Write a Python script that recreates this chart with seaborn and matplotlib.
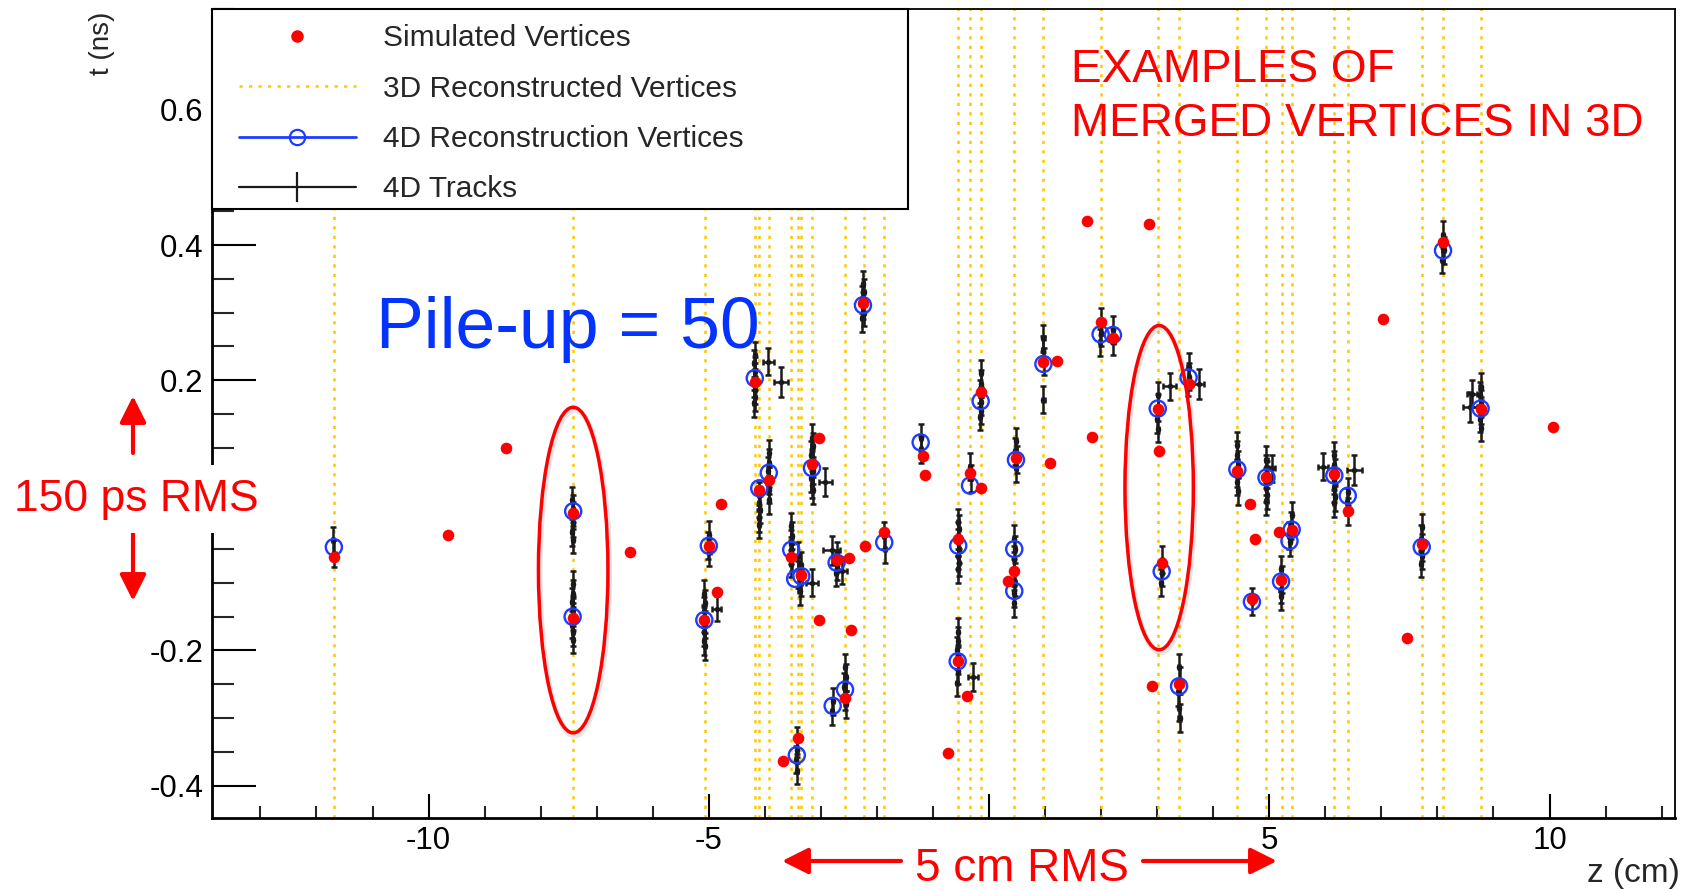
import matplotlib
matplotlib.use("Agg")
import matplotlib.pyplot as plt
import matplotlib.patheffects as pe
from matplotlib.patches import Ellipse, Rectangle, FancyArrowPatch
from matplotlib.lines import Line2D
from matplotlib.ticker import MultipleLocator, FixedLocator, FixedFormatter
import seaborn as sns

# simulated vertices (z in cm, t in ns)
sim_z = [-11.69, -9.65, -8.62, -7.42, -7.43, -6.41, -5.00, -5.08, -4.78, -4.86,
         -4.18, -4.10, -3.92, -3.68, -3.40, -3.53, -3.35, -3.16, -3.04, -3.03,
         -2.72, -2.49, -2.21, -1.87, -2.47, -2.57, -2.25, -1.18, -1.15, -0.34,
         -0.15, -0.15, -0.55, -0.56, -0.40, -0.73, 0.48, 0.45, 0.34, 0.97,
         1.21, 1.08, 1.83, 1.75, 1.99, 2.21, 2.85, 3.01, 3.04, 3.08,
         3.39, 2.90, 3.56, 4.43, 4.66, 4.74, 4.69, 4.95, 5.17, 5.40,
         5.21, 6.16, 6.40, 7.03, 7.72, 7.45, 8.10, 8.77, 10.07]
sim_t = [-0.062, -0.029, 0.099, 0.003, -0.152, -0.055, -0.046, -0.155, 0.017, -0.113,
         0.197, 0.038, 0.052, -0.364, -0.330, -0.061, -0.088, 0.076, 0.115, -0.155,
         -0.066, -0.063, -0.045, -0.025, -0.169, -0.271, 0.314, 0.088, 0.060, 0.062,
         0.041, 0.182, -0.035, -0.216, -0.267, -0.352, 0.085, -0.082, -0.097, 0.227,
         0.229, 0.078, 0.116, 0.436, 0.286, 0.263, 0.431, 0.158, 0.095, -0.070,
         -0.250, -0.253, 0.194, 0.065, 0.017, -0.035, -0.124, 0.056, -0.025, -0.021,
         -0.096, 0.061, 0.007, 0.290, -0.042, -0.182, 0.404, 0.158, 0.131]

# 4D reconstructed vertices
reco4d_z = [-11.69, -7.42, -7.43, -5.00, -5.08, -4.18, -4.10, -3.93, -3.53, -3.46,
            -3.35, -3.43, -3.16, -2.72, -2.57, -2.79, -2.25, -1.87, -1.22, -0.34,
            -0.15, -0.55, -0.56, 0.48, 0.45, 0.45, 0.97, 1.99, 2.21, 3.01,
            3.08, 3.39, 3.56, 4.43, 4.69, 4.95, 5.21, 5.40, 5.36, 6.16,
            6.40, 7.72, 8.10, 8.77]
reco4d_t = [-0.047, 0.006, -0.150, -0.045, -0.155, 0.203, 0.040, 0.063, -0.051, -0.094,
            -0.090, -0.355, 0.070, -0.070, -0.258, -0.282, 0.311, -0.040, 0.108, 0.044,
            0.169, -0.045, -0.216, 0.082, -0.050, -0.112, 0.224, 0.268, 0.267, 0.158,
            -0.083, -0.253, 0.204, 0.068, -0.128, 0.056, -0.098, -0.021, -0.038, 0.059,
            0.029, -0.047, 0.392, 0.158]

# 3D reconstructed vertices (z only)
reco3d_z = [-11.69, -7.43, -5.06, -4.17, -4.10, -3.93, -3.53, -3.40, -3.35, -3.16,
            -2.57, -2.24, -1.87, -0.55, -0.34, -0.15, 0.45, 0.97, 1.99, 3.01,
            3.39, 4.43, 4.94, 5.22, 5.40, 6.16, 6.40, 7.72, 8.10, 8.77]

# 4D tracks, errors 0.02 cm / 0.02 ns
trk_z = [-11.70, -11.68,
         -7.44, -7.42, -7.43, -7.42, -7.44, -7.43,
         -7.43, -7.42, -7.44, -7.43, -7.42, -7.44, -7.43, -7.42,
         -5.00, -5.01, -4.99,
         -5.08, -5.07, -5.09, -5.08, -5.07, -5.09, -5.08, -5.07,
         -4.18, -4.19, -4.17, -4.18, -4.19, -4.17, -4.18, -4.19,
         -4.10, -4.11, -4.09, -4.10, -4.11,
         -3.93, -3.92, -3.94, -3.93, -3.92, -3.93,
         -3.53, -3.52, -3.54, -3.53, -3.52, -3.54,
         -3.40, -3.36, -3.41, -3.35, -3.38,
         -3.43, -3.42, -3.44, -3.43,
         -3.16, -3.15, -3.17, -3.16, -3.15, -3.17, -3.16, -3.15,
         -2.72, -2.71, -2.73,
         -2.57, -2.56, -2.58, -2.57, -2.56, -2.79, -2.80,
         -2.25, -2.24, -2.26, -2.25, -2.24, -2.26,
         -1.87, -1.86,
         -1.21, -1.22,
         -0.34, -0.33,
         -0.15, -0.14, -0.16, -0.15, -0.14, -0.16,
         -0.55, -0.54, -0.56, -0.55, -0.53, -0.56, -0.54, -0.55,
         -0.56, -0.55, -0.57, -0.56, -0.55, -0.57,
         0.48, 0.47, 0.49, 0.48,
         0.45, 0.46, 0.44, 0.45, 0.46, 0.44, 0.45,
         0.97, 0.96, 0.98, 0.97,
         1.99, 2.00, 1.98, 2.21, 2.22,
         3.01, 3.02, 3.00, 3.01,
         3.56, 3.57, 3.55,
         3.08, 3.09, 3.07,
         3.39, 3.40, 3.38, 3.39, 3.40,
         4.43, 4.42, 4.44, 4.43, 4.42, 4.44,
         4.95, 4.94, 4.96, 4.95, 4.94, 4.96, 4.95,
         4.69,
         5.21, 5.22, 5.20, 5.21,
         5.40, 5.39, 5.36, 5.37,
         6.16, 6.15, 6.17, 6.16, 6.15, 6.17, 6.16,
         6.40, 6.39, 6.41,
         7.72, 7.71, 7.73, 7.72, 7.71,
         8.10, 8.11, 8.09,
         8.77, 8.76, 8.78, 8.77, 8.76, 8.78]
trk_t = [-0.037, -0.057,
         0.022, 0.010, 0.000, -0.012, -0.025, -0.036,
         -0.102, -0.116, -0.128, -0.140, -0.150, -0.162, -0.173, -0.184,
         -0.029, -0.045, -0.055,
         -0.116, -0.130, -0.141, -0.152, -0.162, -0.173, -0.186, -0.194,
         0.237, 0.225, 0.214, 0.205, 0.195, 0.185, 0.175, 0.166,
         0.030, 0.018, 0.008, -0.004, -0.014,
         0.092, 0.078, 0.066, 0.052, 0.038, 0.022,
         -0.016, -0.030, -0.042, -0.052, -0.062, -0.072,
         -0.060, -0.074, -0.088, -0.100, -0.112,
         -0.333, -0.347, -0.362, -0.378,
         0.115, 0.102, 0.090, 0.078, 0.066, 0.055, 0.045, 0.037,
         -0.060, -0.075, -0.085,
         -0.225, -0.240, -0.254, -0.268, -0.280, -0.275, -0.290,
         0.342, 0.330, 0.320, 0.310, 0.300, 0.292,
         -0.030, -0.050,
         0.115, 0.098,
         0.072, 0.055,
         0.210, 0.195, 0.181, 0.168, 0.155, 0.146,
         -0.010, -0.020, -0.030, -0.040, -0.050, -0.060, -0.070, -0.080,
         -0.172, -0.186, -0.200, -0.215, -0.230, -0.248,
         0.110, 0.095, 0.082, 0.070,
         -0.035, -0.050, -0.065, -0.085, -0.100, -0.115, -0.130,
         0.262, 0.245, 0.228, 0.171,
         0.287, 0.270, 0.256, 0.275, 0.257,
         0.178, 0.160, 0.142, 0.128,
         0.220, 0.205, 0.196,
         -0.066, -0.085, -0.100,
         -0.225, -0.245, -0.262, -0.285, -0.300,
         0.104, 0.090, 0.075, 0.062, 0.050, 0.036,
         0.082, 0.070, 0.060, 0.050, 0.040, 0.030, 0.021,
         -0.128,
         -0.080, -0.095, -0.110, -0.120,
         0.000, -0.015, -0.030, -0.040,
         0.089, 0.075, 0.064, 0.052, 0.040, 0.027, 0.018,
         0.035, 0.020, 0.005,
         -0.018, -0.035, -0.048, -0.060, -0.072,
         0.415, 0.392, 0.378,
         0.190, 0.178, 0.165, 0.155, 0.143, 0.130]

# tracks with a wider z error
wide_z = [-4.86, -3.94, -3.71, -3.16, -2.92, -2.81, -2.62, -0.28, 3.22, 3.74, 5.05, 5.96, 6.52, 8.62, 8.58]
wide_t = [-0.138, 0.227, 0.197, -0.100, 0.049, -0.052, -0.082, -0.239, 0.191, 0.194, 0.070, 0.072, 0.067, 0.180, 0.160]
wide_zerr = [0.08, 0.10, 0.12, 0.10, 0.11, 0.15, 0.08, 0.09, 0.11, 0.10, 0.06, 0.09, 0.13, 0.09, 0.12]
wide_terr = [0.018, 0.02, 0.022, 0.02, 0.021, 0.021, 0.02, 0.021, 0.02, 0.022, 0.02, 0.02, 0.022, 0.02, 0.022]

# merged vertices (ellipses)
merged_z = [-7.42, 3.035]
merged_t = [-0.081, 0.041]
merged_w = [1.24, 1.22]
merged_h = [0.482, 0.480]

xtick_vals = [-10, -5, 0, 5, 10]
xtick_labels = ["-10", "-5", "", "5", "10"]
ytick_vals = [-0.4, -0.2, 0.0, 0.2, 0.4, 0.6]
ytick_labels = ["-0.4", "-0.2", "", "0.2", "0.4", "0.6"]

legend_labels = ["Simulated Vertices", "3D Reconstructed Vertices",
                 "4D Reconstruction Vertices", "4D Tracks"]

RED = "#ff0000"
BLUE = "#1e3cff"
GOLD = "#ffc800"
DOTS = (0, (1.3, 2.5))

sns.set_theme(style="ticks")
plt.rcParams["font.family"] = ["Liberation Sans", "DejaVu Sans"]

fig = plt.figure(figsize=(16.84, 8.90), dpi=100)
ax = fig.add_axes([0.1257, 0.0809, 0.869, 0.9094])
ax.set_facecolor("white")

for z in reco3d_z:
    ax.axvline(z, color=GOLD, lw=1.8, ls=DOTS, zorder=1)

ax.errorbar(trk_z, trk_t, xerr=0.02, yerr=0.02, fmt="o", ms=3, color="k",
            elinewidth=1.8, capsize=2.4, capthick=1.8, zorder=3)
ax.errorbar(wide_z, wide_t, xerr=wide_zerr, yerr=wide_terr, fmt="o", ms=3, color="k",
            elinewidth=1.8, capsize=2.4, capthick=1.8, zorder=3)

sns.scatterplot(x=reco4d_z, y=reco4d_t, ax=ax, s=135, color=BLUE, linewidth=1.7, zorder=4)
ax.collections[-1].set_facecolor("none")
ax.collections[-1].set_edgecolor(BLUE)
sns.scatterplot(x=sim_z, y=sim_t, ax=ax, s=70, color=RED, linewidth=0, zorder=5)

for z, t, w, h in zip(merged_z, merged_t, merged_w, merged_h):
    ax.add_patch(Ellipse((z, t), w, h, fill=False, ec=RED, lw=2.5, zorder=7,
                         path_effects=[pe.SimpleLineShadow(offset=(1.0, -2.0), shadow_color="0.5",
                                                           alpha=0.2, linewidth=4),
                                       pe.Normal()]))

ax.set_xlim(-13.87, 12.24)
ax.set_ylim(-0.448, 0.750)
ax.xaxis.set_major_locator(FixedLocator(xtick_vals))
ax.xaxis.set_major_formatter(FixedFormatter(xtick_labels))
ax.xaxis.set_minor_locator(MultipleLocator(1))
ax.yaxis.set_major_locator(FixedLocator(ytick_vals))
ax.yaxis.set_major_formatter(FixedFormatter(ytick_labels))
ax.yaxis.set_minor_locator(MultipleLocator(0.05))
ax.tick_params(axis="x", which="major", direction="in", length=17.3, width=1.5,
               labelsize=22.5, pad=6, top=False, colors="black")
ax.tick_params(axis="x", which="minor", direction="in", length=8.6, width=1.5, top=False)
ax.tick_params(axis="y", which="major", direction="in", length=31.7, width=1.5,
               labelsize=22.5, pad=6, right=False, colors="black")
ax.tick_params(axis="y", which="minor", direction="in", length=15.8, width=1.5, right=False)
for side in ["left", "bottom"]:
    ax.spines[side].set_linewidth(2.0)
    ax.spines[side].set_color("black")
for side in ["top", "right"]:
    ax.spines[side].set_linewidth(1.3)
    ax.spines[side].set_color("black")
    ax.spines[side].set_visible(True)

# legend box
ax.add_patch(Rectangle((0, 0.752), 0.4755, 0.248, transform=ax.transAxes, fc="white",
                       ec="black", lw=1.5, zorder=5.5, clip_on=False))
handles = [
    Line2D([], [], ls="none", marker="o", ms=8, color=RED),
    Line2D([], [], color=GOLD, lw=1.8, ls=DOTS),
    Line2D([], [], color=BLUE, lw=2, marker="o", ms=11, mfc="none", mec=BLUE, mew=1.6),
    Line2D([], [], color="k", lw=1.6, marker="|", ms=22, mew=1.6),
]
leg = ax.legend(handles, legend_labels, loc="upper left", bbox_to_anchor=(0.1328, 0.9895),
                bbox_transform=fig.transFigure, frameon=False, fontsize=21.5, borderpad=0,
                handlelength=3.93, handletextpad=0.91, labelspacing=0.75)
leg.set_zorder(6)

ax.text(-10.93, 0.2475, "Pile-up = 50", color="#0433ff", fontsize=51.5,
        ha="left", va="baseline", zorder=2)

fig.text(0.636, 0.908, "EXAMPLES OF", color=RED, fontsize=33, va="baseline")
fig.text(0.636, 0.847, "MERGED VERTICES IN 3D", color=RED, fontsize=33, va="baseline")
fig.text(136 / 1684, 0.4262, "150 ps RMS", color=RED, fontsize=32, ha="center", va="baseline",
         bbox=dict(boxstyle="square,pad=0.3", fc="white", ec="none"))
fig.text(0.607, 0.0101, "5 cm RMS", color=RED, fontsize=33, ha="center", va="baseline")
fig.text(0.9976, 0.009, "z (cm)", fontsize=24, ha="right", va="baseline")
fig.text(0.0606, 0.9865, "t (ns)", fontsize=20, ha="center", va="top", rotation=90)

arrows = [((133, 453), (133, 396)), ((133, 530), (133, 601)),
          ((901, 861), (782, 861)), ((1143, 861), (1277, 861))]
for (x0, y0), (x1, y1) in arrows:
    fig.add_artist(FancyArrowPatch((x0 / 1684, 1 - y0 / 890), (x1 / 1684, 1 - y1 / 890),
                                   transform=fig.transFigure, arrowstyle="-|>", mutation_scale=40,
                                   lw=3, color=RED, shrinkA=0, shrinkB=0))

fig.savefig("out.png", dpi=100)
